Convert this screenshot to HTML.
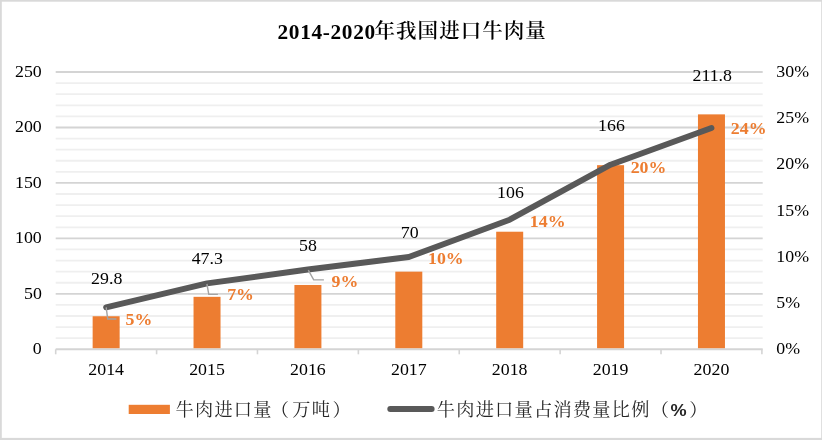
<!DOCTYPE html>
<html lang="zh-CN"><head><meta charset="utf-8"><title>2014-2020年我国进口牛肉量</title>
<style>
html,body{margin:0;padding:0;background:#fff;}
body{width:822px;height:440px;overflow:hidden;}
svg{display:block;}
text{font-family:"Liberation Serif","Noto Serif CJK SC",serif;fill:#000;}
.ax{font-size:17.33px;}
.dl{font-size:17.33px;text-anchor:middle;}
.pl{font-size:17.33px;font-weight:bold;fill:#ED7D31;}
.lg{font-size:18.2px;letter-spacing:1.25px;fill:#262626;}
.ttl{font-size:21.33px;font-weight:bold;}
.tc{font-weight:600;font-size:20.5px;letter-spacing:1.03px;}
</style></head><body>
<svg width="822" height="440" viewBox="0 0 822 440">
<rect x="0" y="0" width="822" height="440" fill="#fff"/>
<rect x="0" y="0" width="822" height="1.7" fill="#d9d9d9"/>
<rect x="0" y="437.9" width="822" height="2.1" fill="#d9d9d9"/>
<rect x="0" y="0" width="1.8" height="440" fill="#d9d9d9"/>
<rect x="821.2" y="0" width="0.8" height="440" fill="#d9d9d9"/>

<line x1="55.7" x2="762.6999999999999" y1="338.21" y2="338.21" stroke="#efefef" stroke-width="1.8"/>
<line x1="55.7" x2="762.6999999999999" y1="327.12" y2="327.12" stroke="#efefef" stroke-width="1.8"/>
<line x1="55.7" x2="762.6999999999999" y1="316.02" y2="316.02" stroke="#efefef" stroke-width="1.8"/>
<line x1="55.7" x2="762.6999999999999" y1="304.93" y2="304.93" stroke="#efefef" stroke-width="1.8"/>
<line x1="55.7" x2="762.6999999999999" y1="282.75" y2="282.75" stroke="#efefef" stroke-width="1.8"/>
<line x1="55.7" x2="762.6999999999999" y1="271.66" y2="271.66" stroke="#efefef" stroke-width="1.8"/>
<line x1="55.7" x2="762.6999999999999" y1="260.56" y2="260.56" stroke="#efefef" stroke-width="1.8"/>
<line x1="55.7" x2="762.6999999999999" y1="249.47" y2="249.47" stroke="#efefef" stroke-width="1.8"/>
<line x1="55.7" x2="762.6999999999999" y1="227.29" y2="227.29" stroke="#efefef" stroke-width="1.8"/>
<line x1="55.7" x2="762.6999999999999" y1="216.20" y2="216.20" stroke="#efefef" stroke-width="1.8"/>
<line x1="55.7" x2="762.6999999999999" y1="205.10" y2="205.10" stroke="#efefef" stroke-width="1.8"/>
<line x1="55.7" x2="762.6999999999999" y1="194.01" y2="194.01" stroke="#efefef" stroke-width="1.8"/>
<line x1="55.7" x2="762.6999999999999" y1="171.83" y2="171.83" stroke="#efefef" stroke-width="1.8"/>
<line x1="55.7" x2="762.6999999999999" y1="160.74" y2="160.74" stroke="#efefef" stroke-width="1.8"/>
<line x1="55.7" x2="762.6999999999999" y1="149.64" y2="149.64" stroke="#efefef" stroke-width="1.8"/>
<line x1="55.7" x2="762.6999999999999" y1="138.55" y2="138.55" stroke="#efefef" stroke-width="1.8"/>
<line x1="55.7" x2="762.6999999999999" y1="116.37" y2="116.37" stroke="#efefef" stroke-width="1.8"/>
<line x1="55.7" x2="762.6999999999999" y1="105.28" y2="105.28" stroke="#efefef" stroke-width="1.8"/>
<line x1="55.7" x2="762.6999999999999" y1="94.18" y2="94.18" stroke="#efefef" stroke-width="1.8"/>
<line x1="55.7" x2="762.6999999999999" y1="83.09" y2="83.09" stroke="#efefef" stroke-width="1.8"/>
<line x1="55.7" x2="762.6999999999999" y1="349.30" y2="349.30" stroke="#d4d4d4" stroke-width="1.9"/>
<line x1="55.7" x2="762.6999999999999" y1="293.84" y2="293.84" stroke="#d4d4d4" stroke-width="1.9"/>
<line x1="55.7" x2="762.6999999999999" y1="238.38" y2="238.38" stroke="#d4d4d4" stroke-width="1.9"/>
<line x1="55.7" x2="762.6999999999999" y1="182.92" y2="182.92" stroke="#d4d4d4" stroke-width="1.9"/>
<line x1="55.7" x2="762.6999999999999" y1="127.46" y2="127.46" stroke="#d4d4d4" stroke-width="1.9"/>
<line x1="55.7" x2="762.6999999999999" y1="72.00" y2="72.00" stroke="#d4d4d4" stroke-width="1.9"/>
<line x1="55.70" x2="55.70" y1="349.3" y2="354.3" stroke="#d4d4d4" stroke-width="1.6"/>
<line x1="156.59" x2="156.59" y1="349.3" y2="354.3" stroke="#d4d4d4" stroke-width="1.6"/>
<line x1="257.47" x2="257.47" y1="349.3" y2="354.3" stroke="#d4d4d4" stroke-width="1.6"/>
<line x1="358.36" x2="358.36" y1="349.3" y2="354.3" stroke="#d4d4d4" stroke-width="1.6"/>
<line x1="459.24" x2="459.24" y1="349.3" y2="354.3" stroke="#d4d4d4" stroke-width="1.6"/>
<line x1="560.13" x2="560.13" y1="349.3" y2="354.3" stroke="#d4d4d4" stroke-width="1.6"/>
<line x1="661.01" x2="661.01" y1="349.3" y2="354.3" stroke="#d4d4d4" stroke-width="1.6"/>
<line x1="761.90" x2="761.90" y1="349.3" y2="354.3" stroke="#d4d4d4" stroke-width="1.6"/>
<rect x="92.64" y="316.25" width="27.0" height="31.95" fill="#ED7D31"/>
<rect x="193.53" y="296.83" width="27.0" height="51.37" fill="#ED7D31"/>
<rect x="294.41" y="284.97" width="27.0" height="63.23" fill="#ED7D31"/>
<rect x="395.30" y="271.66" width="27.0" height="76.54" fill="#ED7D31"/>
<rect x="496.19" y="231.72" width="27.0" height="116.48" fill="#ED7D31"/>
<rect x="597.07" y="165.17" width="27.0" height="183.03" fill="#ED7D31"/>
<rect x="697.96" y="114.37" width="27.0" height="233.83" fill="#ED7D31"/>
<path d="M106.14,307.30 L207.02,283.40 Q207.03,283.40 207.04,283.40 L307.90,269.50 Q307.91,269.50 307.92,269.50 L408.79,257.00 Q408.80,257.00 408.81,257.00 L509.68,219.70 Q509.69,219.70 509.69,219.70 L610.56,164.70 Q610.57,164.70 610.58,164.70 L711.46,128.00" fill="none" stroke="#595959" stroke-width="5.9" stroke-linecap="round" stroke-linejoin="round"/>
<polyline fill="none" stroke="#a3a3a3" stroke-width="1.4" points="106.2,307.3 107.7,319.0 116.4,319.0"/>
<polyline fill="none" stroke="#a3a3a3" stroke-width="1.4" points="206.9,284.0 208.8,294.4 217.9,294.4"/>
<polyline fill="none" stroke="#a3a3a3" stroke-width="1.4" points="308.3,270.2 313.7,279.9 323.9,279.9"/>
<text class="ax" transform="translate(41.80,354.00) scale(1.03,1)" text-anchor="end">0</text>
<text class="ax" transform="translate(41.80,299.00) scale(1.03,1)" text-anchor="end">50</text>
<text class="ax" transform="translate(41.80,243.00) scale(1.03,1)" text-anchor="end">100</text>
<text class="ax" transform="translate(41.80,188.00) scale(1.03,1)" text-anchor="end">150</text>
<text class="ax" transform="translate(41.80,132.00) scale(1.03,1)" text-anchor="end">200</text>
<text class="ax" transform="translate(41.80,77.00) scale(1.03,1)" text-anchor="end">250</text>
<text class="ax" transform="translate(776.30,354.00) scale(1.03,1)">0%</text>
<text class="ax" transform="translate(776.30,308.00) scale(1.03,1)">5%</text>
<text class="ax" transform="translate(776.30,262.00) scale(1.03,1)">10%</text>
<text class="ax" transform="translate(776.30,216.00) scale(1.03,1)">15%</text>
<text class="ax" transform="translate(776.30,169.00) scale(1.03,1)">20%</text>
<text class="ax" transform="translate(776.30,123.00) scale(1.03,1)">25%</text>
<text class="ax" transform="translate(776.30,77.00) scale(1.03,1)">30%</text>
<text class="ax" transform="translate(106.14,375.00) scale(1.03,1)" text-anchor="middle">2014</text>
<text class="ax" transform="translate(207.03,375.00) scale(1.03,1)" text-anchor="middle">2015</text>
<text class="ax" transform="translate(307.91,375.00) scale(1.03,1)" text-anchor="middle">2016</text>
<text class="ax" transform="translate(408.80,375.00) scale(1.03,1)" text-anchor="middle">2017</text>
<text class="ax" transform="translate(509.69,375.00) scale(1.03,1)" text-anchor="middle">2018</text>
<text class="ax" transform="translate(610.57,375.00) scale(1.03,1)" text-anchor="middle">2019</text>
<text class="ax" transform="translate(711.46,375.00) scale(1.03,1)" text-anchor="middle">2020</text>
<text class="dl" transform="translate(106.70,284.00) scale(1.03,1)">29.8</text>
<text class="dl" transform="translate(207.30,264.00) scale(1.03,1)">47.3</text>
<text class="dl" transform="translate(308.00,251.00) scale(1.03,1)">58</text>
<text class="dl" transform="translate(409.70,238.00) scale(1.03,1)">70</text>
<text class="dl" transform="translate(510.50,198.00) scale(1.03,1)">106</text>
<text class="dl" transform="translate(611.50,131.00) scale(1.03,1)">166</text>
<text class="dl" transform="translate(712.20,81.00) scale(1.03,1)">211.8</text>
<text class="pl" transform="translate(125.60,325.20) scale(1.03,1)">5%</text>
<text class="pl" transform="translate(227.20,300.30) scale(1.03,1)">7%</text>
<text class="pl" transform="translate(331.50,287.20) scale(1.03,1)">9%</text>
<text class="pl" transform="translate(428.00,264.40) scale(1.03,1)">10%</text>
<text class="pl" transform="translate(529.80,226.50) scale(1.03,1)">14%</text>
<text class="pl" transform="translate(630.70,172.80) scale(1.03,1)">20%</text>
<text class="pl" transform="translate(730.80,134.30) scale(1.03,1)">24%</text>
<text class="ttl" x="277.5" y="38.6"><tspan letter-spacing="0.65px">2014-2020</tspan><tspan class="tc" dx="-1.2" dy="-0.4">年我国进口牛肉量</tspan></text>
<rect x="128.7" y="404.8" width="41.2" height="9.2" fill="#ED7D31"/>
<text class="lg" x="175.5" y="416.2">牛肉进口量<tspan dx="-2">（</tspan><tspan dx="2.1">万吨</tspan><tspan dx="1.4">）</tspan></text>
<line x1="390.3" x2="431.6" y1="408.9" y2="408.9" stroke="#595959" stroke-width="6" stroke-linecap="round"/>
<text class="lg" x="436.8" y="416.2">牛肉进口量占消费量比例<tspan dx="0">（</tspan></text>
<text transform="translate(670.6,415.7) scale(1.12,1)" style="font-family:'Liberation Sans',sans-serif;font-size:16.2px;font-weight:bold;fill:#262626">%</text>
<text class="lg" x="689.2" y="416.2">）</text>
</svg></body></html>
